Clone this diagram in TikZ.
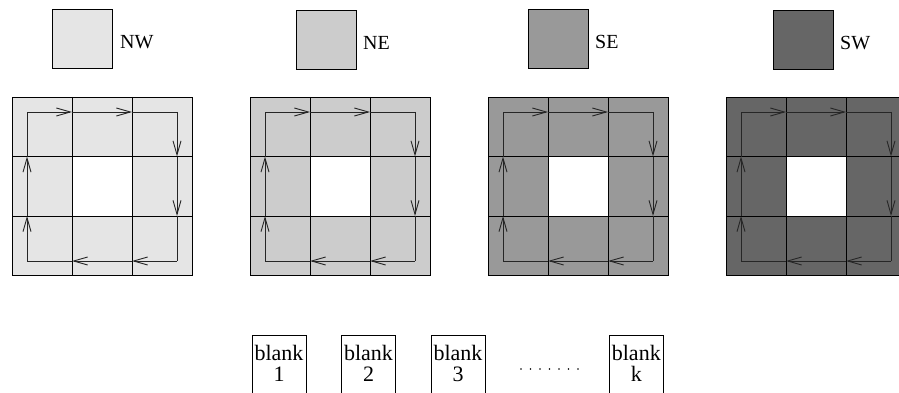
\documentclass[tikz,border=0pt]{standalone}
\usepackage{fontspec}
\setmainfont{Liberation Serif}
\usetikzlibrary{arrows.meta}
\definecolor{nwgray}{gray}{0.898}
\definecolor{negray}{gray}{0.8}
\definecolor{segray}{gray}{0.6}
\definecolor{swgray}{gray}{0.4}

\begin{document}
\begin{tikzpicture}[x=1pt,y=-1pt,
  gridline/.style={line width=0.9pt, black},
  plain/.style={line width=0.9pt, black!85},
  flow/.style={plain, -{Straight Barb[length=14pt,width=8pt,line width=0.9pt]}},
  swatch/.style={draw, line width=0.9pt, minimum width=60pt, minimum height=59pt, inner sep=0pt, anchor=north west},
  caption/.style={font=\fontsize{20}{20}\selectfont, anchor=base west, inner sep=0pt},
  slotbox/.style={draw, line width=0.8pt, minimum width=54pt, minimum height=90pt, inner sep=0pt, anchor=north},
  slot/.style={font=\fontsize{22}{21}\selectfont, align=center, inner sep=0pt, anchor=base}
]
\useasboundingbox (0,0) rectangle (899,393);
\clip (0,0) rectangle (899,393);

% legend swatches with their quadrant names
\node[swatch, fill=nwgray] (nw) at (52,9)  {};
\node[swatch, fill=negray] (ne) at (296,10) {};
\node[swatch, fill=segray] (se) at (528,9)  {};
\node[swatch, fill=swgray] (sw) at (773,10) {};
\node[caption] (nwl) at (120,48.5) {NW};
\node[caption] (nel) at (363,49.5) {NE};
\node[caption] (sel) at (595,48.5) {SE};
\node[caption] (swl) at (840,49.5) {SW};

% 3x3 grids with an empty centre and a clockwise loop through the ring
\foreach \gx/\col in {12/nwgray,250/negray,488/segray,726/swgray}{
  \fill[\col] (\gx,97) rectangle (\gx+180,275.5);
  \fill[white] (\gx+60,156.5) rectangle (\gx+120,216);
  \draw[gridline] (\gx,97) rectangle (\gx+180,275.5);
  \draw[gridline] (\gx+60,97) -- (\gx+60,275.5);
  \draw[gridline] (\gx+120,97) -- (\gx+120,275.5);
  \draw[gridline] (\gx,156.5) -- (\gx+180,156.5);
  \draw[gridline] (\gx,216) -- (\gx+180,216);
  % top edge, left to right
  \draw[flow] (\gx+15,112) -- (\gx+60,112);
  \draw[flow] (\gx+60,112) -- (\gx+120,112);
  \draw[plain] (\gx+120,112) -- (\gx+165,112);
  % right edge, downwards
  \draw[flow] (\gx+165,112) -- (\gx+165,156.5);
  \draw[flow] (\gx+165,156.5) -- (\gx+165,216);
  \draw[plain] (\gx+165,216) -- (\gx+165,261);
  % bottom edge, right to left
  \draw[flow] (\gx+165,261) -- (\gx+120,261);
  \draw[flow] (\gx+120,261) -- (\gx+60,261);
  \draw[plain] (\gx+60,261) -- (\gx+15,261);
  % left edge, upwards
  \draw[flow] (\gx+15,261) -- (\gx+15,216);
  \draw[flow] (\gx+15,216) -- (\gx+15,156.5);
  \draw[plain] (\gx+15,156.5) -- (\gx+15,112);
}

% blank slots (open at the bottom edge)
\node[slotbox] (s1) at (279,335)   {};
\node[slotbox] (s2) at (368.5,335) {};
\node[slotbox] (s3) at (458,335)   {};
\node[slotbox] (sk) at (636.3,335) {};
\node[slot] (t1) at ([yshift=-46pt]s1.north) {blank\\1};
\node[slot] (t2) at ([yshift=-46pt]s2.north) {blank\\2};
\node[slot] (t3) at ([yshift=-46pt]s3.north) {blank\\3};
\node[slot] (tk) at ([yshift=-46pt]sk.north) {blank\\k};

% dotted ellipsis between slot 3 and slot k
\foreach \i in {0,...,6}
  \fill (521+9.5*\i,369) circle (0.8pt);
\end{tikzpicture}
\end{document}
